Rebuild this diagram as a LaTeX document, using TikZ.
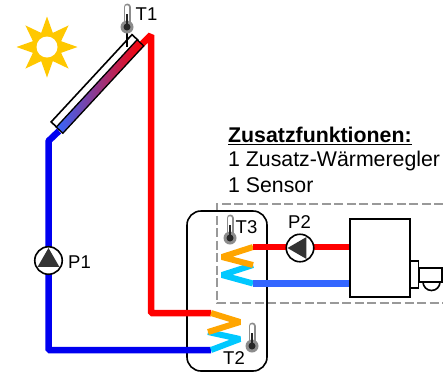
\documentclass[tikz,border=0pt]{standalone}
\usepackage{fontspec}
\setmainfont{Liberation Sans}
\usetikzlibrary{shapes.geometric}
\definecolor{sunyellow}{HTML}{FFC800}
\definecolor{hotred}{HTML}{FF0000}
\definecolor{coldblue}{HTML}{0000F0}
\definecolor{returnblue}{HTML}{3366FF}
\definecolor{panelmid}{HTML}{B858C8}
\definecolor{coilorange}{HTML}{FFA500}
\definecolor{coilcyan}{HTML}{00C8FF}
\tikzset{
  pipe/.style={line width=6.5pt,line join=bevel},
  coil/.style={line width=6pt,line join=bevel},
  box/.style={draw,line width=1.6pt,fill=white,inner sep=0pt},
  pumpbody/.style={circle,draw,line width=1.6pt,fill=white,minimum size=27.5pt,inner sep=0pt},
  pumphead/.style={regular polygon,regular polygon sides=3,fill=black!80,minimum size=25pt,inner sep=0pt},
  label/.style={font=\fontsize{18.5}{22}\selectfont,inner sep=0pt,anchor=west},
  info/.style={font=\fontsize{21.3}{25}\selectfont,inner sep=0pt,anchor=west},
  thermo/.pic={
    \draw[black!45,line width=7pt,line cap=round] (0,-20) -- (0,-3);
    \draw[white,line width=3.5pt,line cap=round] (0,-20) -- (0,-3);
    \fill[black!45] (0,0) circle (6.5pt);
    \draw[black!85,line width=2pt] (0,-13) -- (0,0);
    \fill[black!85] (0,0) circle (3.5pt);
  },
}
\begin{document}
\begin{tikzpicture}[x=1pt,y=-1pt]
  \useasboundingbox (0,0) rectangle (443,373);
  % sun
  \node[star,star points=8,star point ratio=2,fill=sunyellow,minimum size=61pt,inner sep=0pt] (sun) at (47,47) {};
  \node[circle,fill=white,minimum size=21pt,inner sep=0pt] (suncore) at (47,47) {};
  % extra functions
  \draw[black!40,line width=1.2pt,dash pattern=on 9pt off 3.5pt] (443,204) -- (217,204) -- (217,303) -- (443,303);
  \node[box,rounded corners=14pt,minimum width=80pt,minimum height=160pt,fill=none] (store) at (227,291) {};
  % collector
  \node[box,rotate=47.2,minimum width=119pt,minimum height=8pt] (glass) at (94.5,81) {};
  \draw[pipe,hotred] (137,49) -- (151,35) -- (151,313) -- (211,313) coordinate (hotin);
  \draw[pipe,coldblue] (59,131) -- (48.5,141) -- (48.5,350) -- (211,350) coordinate (coldin);
  \node[box,line width=1.3pt,rotate=47.2,minimum width=119pt,minimum height=9pt,left color=returnblue,middle color=panelmid,right color=hotred,draw=black] (panel) at (100,86.5) {};
  % coils
  \draw[coil,coilcyan] (coldin) -- (240,339) -- (208,332);
  \draw[coil,coilorange] (hotin) -- (240,322) -- (208,332);
  \coordinate (flow) at (253,247);
  \coordinate (return) at (253,283.5);
  \draw[coil,coilcyan] (return) -- (222,275) -- (253,265);
  \draw[coil,coilorange] (flow) -- (222,257) -- (253,265);
  % boiler
  \node[box,minimum width=60.5pt,minimum height=78pt] (boiler) at (380,258) {};
  \node[box,minimum width=8pt,minimum height=27pt] (flange) at (414.5,274.5) {};
  \node[box,minimum width=23.5pt,minimum height=14pt] (burner) at (430.5,275) {};
  \draw[line width=1.6pt] (423,282) arc (180:360:8.5pt);
  \draw[pipe,hotred] (flow) -- (boiler.west |- flow);
  \draw[pipe,returnblue] (return) -- (boiler.west |- return);
  % pumps
  \node[pumpbody] (P1) at (48.5,260.5) {};
  \node[pumphead] (P1head) at (48.5,260.5) {};
  \node[pumpbody] (P2) at (300,248) {};
  \node[pumphead,rotate=90] (P2head) at (300,248) {};
  % sensors
  \coordinate (T1pos) at (127,27);
  \draw[line width=1.5pt] (T1pos) -- (127,47);
  \pic at (T1pos) {thermo};
  \pic at (230,238) {thermo};
  \pic at (252,346) {thermo};
  \node[label] (T1) at (135.5,14) {T1};
  \node[label] (T2) at (223,358) {T2};
  \node[label] (T3) at (235.5,227) {T3};
  \node[label] (P1text) at (68,262) {P1};
  \node[label] (P2text) at (288,222) {P2};
  \node[info] (head) at (228,136) {\textbf{\underline{Zusatzfunktionen:}}};
  \node[info] (line1) at (228,160.5) {1 Zusatz-Wärmeregler};
  \node[info] (line2) at (228,185) {1 Sensor};
\end{tikzpicture}
\end{document}
